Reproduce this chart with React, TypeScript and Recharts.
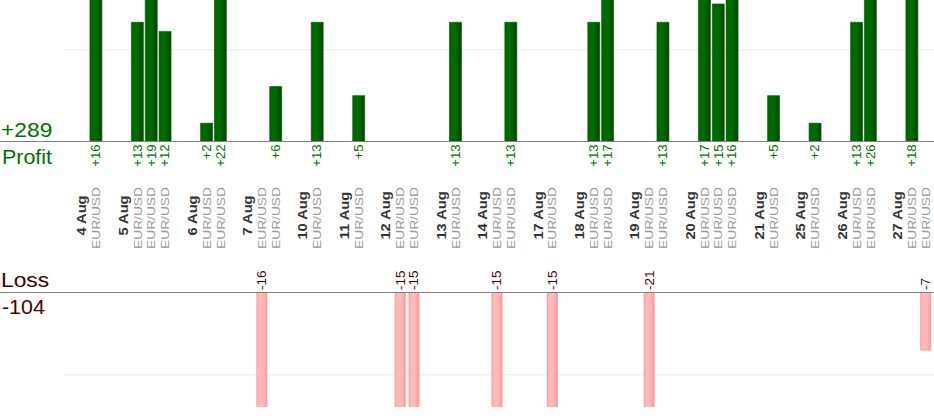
import React from 'react';
import { ComposedChart, Bar, XAxis, YAxis, ReferenceLine, LabelList, CartesianGrid } from 'recharts';

// trading days shown on the axis
const days = [
  '4 Aug', '5 Aug', '6 Aug', '7 Aug', '10 Aug', '11 Aug', '12 Aug', '13 Aug', '14 Aug',
  '17 Aug', '18 Aug', '19 Aug', '20 Aug', '21 Aug', '25 Aug', '26 Aug', '27 Aug',
];

// index into `days` for every closed trade, in order
const tradeDay = [
  0, 1, 1, 1, 2, 2, 3, 3, 4, 5, 6, 6, 7, 8, 8, 9, 10, 10, 11, 11, 12, 12, 12, 13, 14, 15, 15, 16, 16,
];

// result of every trade, pips
const tradeResult = [
  16, 13, 19, 12, 2, 22, -16, 6, 13, 5, -15, -15, 13, -15, 13, -15, 13, 17, -21, 13, 17, 15, 16, 5, 2,
  13, 26, 18, -7,
];

const tradePair = 'EUR/USD';

// light guide lines, one per panel
const profitGuide = 10;
const lossGuide = -10;

type Slot = {
  slot: number;
  kind: 'day' | 'trade' | 'gap';
  text: string;
  profit: number | null;
  loss: number | null;
};

// one column per day header, per trade, and an empty column between days
const slots: Slot[] = [];
days.forEach((d, di) => {
  if (di > 0) slots.push({ slot: slots.length, kind: 'gap', text: '', profit: null, loss: null });
  slots.push({ slot: slots.length, kind: 'day', text: d, profit: null, loss: null });
  tradeResult.forEach((r, ti) => {
    if (tradeDay[ti] !== di) return;
    slots.push({
      slot: slots.length,
      kind: 'trade',
      text: tradePair,
      profit: r > 0 ? r : null,
      loss: r < 0 ? r : null,
    });
  });
});

const totalProfit = tradeResult.filter((r) => r > 0).reduce((a, b) => a + b, 0);
const totalLoss = tradeResult.filter((r) => r < 0).reduce((a, b) => a + b, 0);

const W = 934;
const H = 420;
const PLOT_BOTTOM = 407;
const SLOT_PX = 13.83;
const FIRST_X = 82;
const xDomain = [-FIRST_X / SLOT_PX, (W - FIRST_X) / SLOT_PX];
const GRID_LEFT = FIRST_X - 1.35 * SLOT_PX;

const PROFIT_BASE = 141.5;
const PROFIT_PX = 9.17;
const profitDomain = [-(PLOT_BOTTOM - PROFIT_BASE) / PROFIT_PX, PROFIT_BASE / PROFIT_PX];
const profitY = (v: number) => PROFIT_BASE - v * PROFIT_PX;

const LOSS_BASE = 292.5;
const LOSS_PX = 8.23;
const lossDomain = [-(PLOT_BOTTOM - LOSS_BASE) / LOSS_PX, LOSS_BASE / LOSS_PX];
const lossY = (v: number) => LOSS_BASE - v * LOSS_PX;

const FONT = '"Liberation Sans", Arial, sans-serif';
const GREEN_TEXT = '#007000';
const RED_TEXT = '#420000';

function SlotTick(props: any) {
  const { x, payload } = props;
  const s = slots[Math.round(Number(payload?.value))];
  if (!s || s.kind === 'gap') return <g />;
  const isDay = s.kind === 'day';
  const cy = isDay ? 215.5 : 218;
  return (
    <text
      transform={`translate(${Number(x) + 4.2},${cy}) rotate(-90) scale(${isDay ? 1.22 : 1.2},1)`}
      textAnchor="middle"
      fontFamily={FONT}
      fontSize={isDay ? 12 : 11.5}
      fontWeight={isDay ? 'bold' : 'normal'}
      fill={isDay ? '#333333' : '#999999'}
    >
      {s.text}
    </text>
  );
}

function ProfitLabel(props: any) {
  const { x, y, width, height, value } = props;
  if (value == null) return null;
  const cx = Number(x) + Number(width) / 2;
  const base = Math.max(Number(y), Number(y) + Number(height));
  return (
    <text
      transform={`translate(${cx + 4.3},${base + 2.8}) rotate(-90) scale(1.1,1)`}
      textAnchor="end"
      fontFamily={FONT}
      fontSize={12}
      fill={GREEN_TEXT}
    >
      {`+${value}`}
    </text>
  );
}

function LossLabel(props: any) {
  const { x, y, width, height, value } = props;
  if (value == null) return null;
  const cx = Number(x) + Number(width) / 2;
  const base = Math.min(Number(y), Number(y) + Number(height));
  return (
    <text
      transform={`translate(${cx + 4.4},${base - 2.5}) rotate(-90) scale(1.12,1)`}
      textAnchor="start"
      fontFamily={FONT}
      fontSize={12}
      fill={RED_TEXT}
    >
      {String(value)}
    </text>
  );
}

function caption(above: string, below: string, color: string, aboveDy: number, belowDy: number) {
  return (props: any) => {
    const y0 = Number(props?.viewBox?.y ?? 0);
    return (
      <g fontFamily={FONT} fontSize={20} fill={color}>
        <text transform={`translate(1,${y0 + aboveDy}) scale(1.14,1)`}>{above}</text>
        <text transform={`translate(2,${y0 + belowDy}) scale(1.07,1)`}>{below}</text>
      </g>
    );
  };
}

export default function App() {
  return (
    <div style={{ position: 'absolute', left: 0, top: 0, width: W, height: H, background: '#fff' }}>
      <ComposedChart
        width={W}
        height={H}
        data={slots}
        margin={{ top: 0, right: 0, left: 0, bottom: H - PLOT_BOTTOM }}
      >
        <defs>
          <linearGradient id="gProfit" x1="0" y1="0" x2="1" y2="0">
            <stop offset="0%" stopColor="#006400" />
            <stop offset="45%" stopColor="#006c00" />
            <stop offset="100%" stopColor="#004800" />
          </linearGradient>
          <linearGradient id="gLoss" x1="0" y1="0" x2="1" y2="0">
            <stop offset="0%" stopColor="#ffb4b4" />
            <stop offset="50%" stopColor="#ffbcbc" />
            <stop offset="100%" stopColor="#ff9e9e" />
          </linearGradient>
        </defs>

        <CartesianGrid
          vertical={false}
          x={GRID_LEFT}
          width={W - GRID_LEFT}
          stroke="#ececec"
          horizontalPoints={[profitY(profitGuide), lossY(lossGuide)]}
        />

        <XAxis
          xAxisId="p"
          dataKey="slot"
          type="number"
          domain={xDomain}
          allowDataOverflow
          ticks={slots.map((s) => s.slot)}
          interval={0}
          mirror
          axisLine={false}
          tickLine={false}
          tick={SlotTick}
        />
        <XAxis xAxisId="l" dataKey="slot" type="number" domain={xDomain} allowDataOverflow hide />
        <YAxis yAxisId="p" type="number" domain={profitDomain} allowDataOverflow hide />
        <YAxis yAxisId="l" type="number" domain={lossDomain} allowDataOverflow hide />

        <Bar
          xAxisId="p"
          yAxisId="p"
          dataKey="profit"
          barSize={12}
          fill="url(#gProfit)"
          stroke="#005a00"
          strokeWidth={0.6}
          isAnimationActive={false}
        >
          <LabelList dataKey="profit" content={<ProfitLabel />} />
        </Bar>
        <Bar
          xAxisId="l"
          yAxisId="l"
          dataKey="loss"
          barSize={10}
          fill="url(#gLoss)"
          stroke="#ff8c8c"
          strokeWidth={0.8}
          isAnimationActive={false}
        >
          <LabelList dataKey="loss" content={<LossLabel />} />
        </Bar>

        <ReferenceLine
          xAxisId="p"
          yAxisId="p"
          y={0}
          stroke="#808080"
          label={caption(`+${totalProfit}`, 'Profit', GREEN_TEXT, -4.5, 22)}
        />
        <ReferenceLine
          xAxisId="l"
          yAxisId="l"
          y={0}
          stroke="#808080"
          label={caption('Loss', String(totalLoss), RED_TEXT, -5.5, 21.5)}
        />
      </ComposedChart>
    </div>
  );
}
